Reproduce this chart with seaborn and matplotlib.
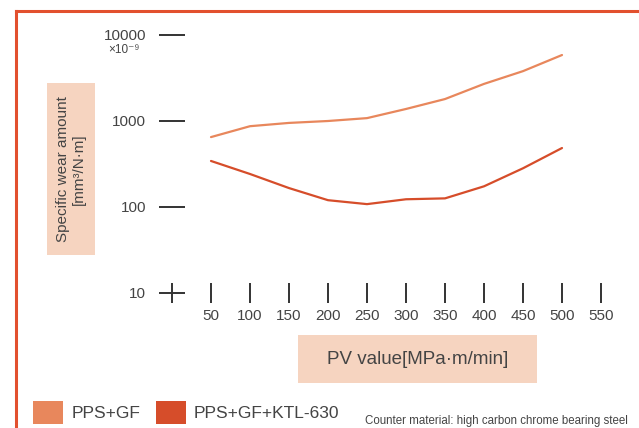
import numpy as np
import pandas as pd
import seaborn as sns
import matplotlib.pyplot as plt
from matplotlib.patches import Patch, Rectangle
from matplotlib.lines import Line2D

# data
pv_values = [50, 100, 150, 200, 250, 300, 350, 400, 450, 500]
wear_pps_gf = [650, 870, 950, 1000, 1080, 1380, 1800, 2700, 3800, 5850]
wear_pps_gf_ktl = [343, 242, 166, 120, 108, 123, 126, 174, 282, 485]
series_names = ["PPS+GF", "PPS+GF+KTL-630"]
x_ticks = [0, 50, 100, 150, 200, 250, 300, 350, 400, 450, 500, 550]
x_tick_labels = [""] + [str(v) for v in x_ticks[1:]]
y_ticks = [10, 100, 1000, 10000]
y_tick_labels = ["10", "100", "1000", "10000"]

colors = {"PPS+GF": "#e8875c", "PPS+GF+KTL-630": "#d64d2a"}
frame_color = "#e2502e"
box_color = "#f6d4c0"
text_color = "#444444"

df = pd.DataFrame({
    "pv": pv_values * 2,
    "wear": wear_pps_gf + wear_pps_gf_ktl,
    "material": [series_names[0]] * len(pv_values) + [series_names[1]] * len(pv_values),
})

sns.set_style("white")
plt.rcParams["font.family"] = ["Liberation Sans", "DejaVu Sans"]

W, H = 639, 428
fig = plt.figure(figsize=(W / 100, H / 100), dpi=100)
ax = fig.add_axes([172 / W, 1 - 293 / H, 436.8 / W, 258 / H])
ax.set_facecolor("none")

sns.lineplot(data=df, x="pv", y="wear", hue="material", hue_order=series_names,
             palette=colors, linewidth=1.6, legend=False, ax=ax)
ax.set_yscale("log")
ax.set_xlim(0, 560)
ax.set_ylim(10, 10000)
for s in ax.spines.values():
    s.set_visible(False)

ax.set_xticks(x_ticks)
ax.set_xticklabels(x_tick_labels)
ax.set_yticks(y_ticks)
ax.set_yticklabels(y_tick_labels)
ax.minorticks_off()
ax.tick_params(axis="y", direction="inout", length=19, width=1.4, pad=9,
               colors="#333333", labelcolor=text_color, labelsize=11, left=True)
ax.tick_params(axis="x", direction="inout", length=14.5, width=1.4, pad=4,
               colors="#333333", labelcolor=text_color, labelsize=11, bottom=True)
ax.set_xlabel("")
ax.set_ylabel("")

# unit factor under the 10000 label
ax.annotate("×10⁻⁹", xy=(0, 10000), xycoords="data", xytext=(-35, -11),
            textcoords="offset points", ha="center", va="center",
            fontsize=8.5, color=text_color, annotation_clip=False)

# axis title boxes
fig.add_artist(Rectangle((47 / W, 1 - 255 / H), 48 / W, 172 / H,
                         transform=fig.transFigure, fc=box_color, ec="none"))
fig.text(71 / W, 1 - 169 / H, "Specific wear amount\n[mm³/N·m]", rotation=90,
         ha="center", va="center", fontsize=11, color=text_color, linespacing=1.1)
fig.add_artist(Rectangle((298 / W, 1 - 383 / H), 239 / W, 48 / H,
                         transform=fig.transFigure, fc=box_color, ec="none"))
fig.text(418 / W, 1 - 359 / H, "PV value[MPa·m/min]", ha="center", va="center",
         fontsize=13.5, color=text_color)

# legend
handles = [Patch(fc=colors[n], ec="none") for n in series_names]
fig.legend(handles, series_names, loc="lower left", bbox_to_anchor=(33 / W, 4 / H),
           ncol=2, frameon=False, fontsize=12.5, handlelength=1.75, handleheight=1.65,
           handletextpad=0.45, columnspacing=0.9, borderpad=0, borderaxespad=0,
           labelcolor=text_color)
fig.text(365 / W, 1 - 424 / H, "Counter material: high carbon chrome bearing steel",
         ha="left", va="baseline", fontsize=8.3, color=text_color)

# outer frame (top and left edges)
fig.add_artist(Line2D([16 / W, 1], [1 - 11 / H, 1 - 11 / H], color=frame_color,
                      lw=2.2, transform=fig.transFigure, solid_capstyle="projecting"))
fig.add_artist(Line2D([16 / W, 16 / W], [0, 1 - 11 / H], color=frame_color,
                      lw=2.2, transform=fig.transFigure, solid_capstyle="projecting"))

fig.savefig("out.png", dpi=100)
